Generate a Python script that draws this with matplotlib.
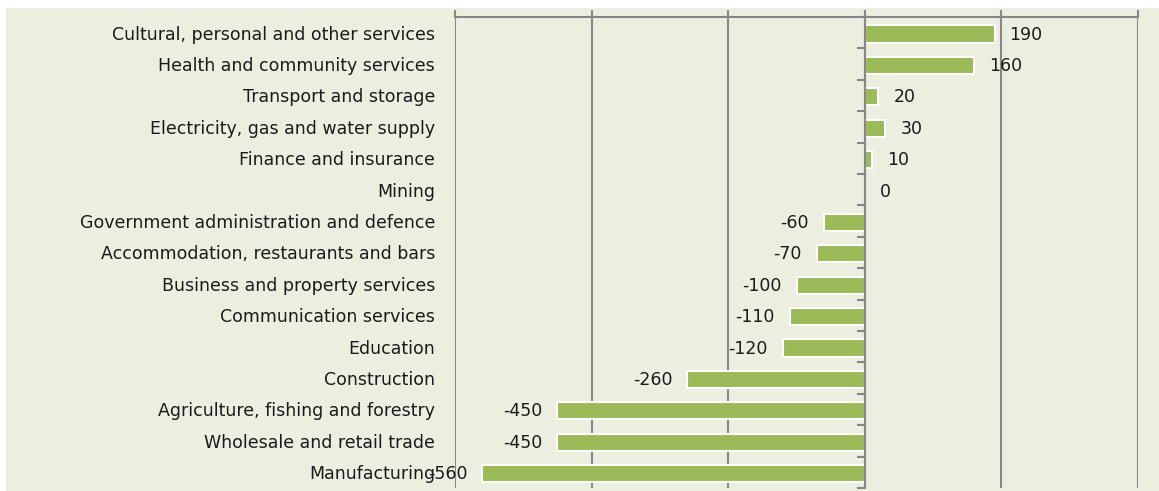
import matplotlib
matplotlib.use("Agg")
import matplotlib.pyplot as plt
from matplotlib.patches import Rectangle
import numpy as np

categories = [
    "Cultural, personal and other services",
    "Health and community services",
    "Transport and storage",
    "Electricity, gas and water supply",
    "Finance and insurance",
    "Mining",
    "Government administration and defence",
    "Accommodation, restaurants and bars",
    "Business and property services",
    "Communication services",
    "Education",
    "Construction",
    "Agriculture, fishing and forestry",
    "Wholesale and retail trade",
    "Manufacturing",
]
values = [190, 160, 20, 30, 10, 0, -60, -70, -100, -110, -120, -260, -450, -450, -560]
x_ticks = [-600, -400, -200, 0, 200, 400]

W, H = 1159, 491
bg = "#ECEFE0"
grey = "#878787"
green = "#9BBB59"
FS = 12.5

fig = plt.figure(figsize=(W / 100, H / 100), dpi=100, facecolor="white")
fig.patches.append(Rectangle((6 / W, 0), 1 - 6 / W, 1 - 8 / H, transform=fig.transFigure,
                             facecolor=bg, edgecolor="none", zorder=-10))

ax = fig.add_axes([455 / W, 1 - 488 / H, (1138 - 455) / W, (488 - 17) / H])
ax.set_facecolor(bg)

y = np.arange(len(categories))
ax.barh(y + 0.04, values, height=0.55, color=green, edgecolor="white", linewidth=1.5, zorder=3)

ax.set_xlim(-600, 400)
ax.set_ylim(len(categories) - 0.5, -0.5)

# value axis on top, no labels
ax.xaxis.tick_top()
ax.set_xticks(x_ticks)
ax.tick_params(axis="x", which="both", direction="out", length=5, width=1.5, color=grey,
               labeltop=False, labelbottom=False)
ax.grid(axis="x", color=grey, linewidth=1.5, zorder=1)

# category axis sits at zero with ticks between bars
ax.spines["left"].set_position(("data", 0))
ax.spines["left"].set_color(grey)
ax.spines["left"].set_linewidth(1.5)
ax.spines["left"].set_zorder(4)
ax.set_yticks(np.arange(-0.5, len(categories), 1.0))
ax.tick_params(axis="y", direction="out", length=6, width=1.5, color=grey, labelleft=False)
for s in ["right", "bottom"]:
    ax.spines[s].set_visible(False)
ax.spines["top"].set_color(grey)
ax.spines["top"].set_linewidth(1.5)

for yi, cat in zip(y, categories):
    ax.text(-20 / (1138 - 455), yi + 0.06, cat, transform=ax.get_yaxis_transform(),
            ha="right", va="center", fontsize=FS, color="#1a1a1a")

for yi, v in zip(y, values):
    if v >= 0:
        ax.annotate(str(v), (v, yi + 0.06), xytext=(15, 0), textcoords="offset pixels",
                    ha="left", va="center", fontsize=FS, color="#1a1a1a", zorder=5)
    else:
        ax.annotate(str(v), (v, yi + 0.06), xytext=(-15, 0), textcoords="offset pixels",
                    ha="right", va="center", fontsize=FS, color="#1a1a1a", zorder=5)

fig.savefig("out.png", dpi=100, facecolor="white")
